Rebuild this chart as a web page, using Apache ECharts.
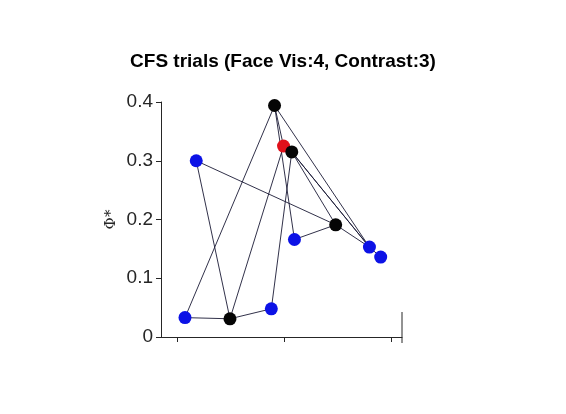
<!DOCTYPE html>
<html>
<head>
<meta charset="utf-8">
<script src="https://cdn.jsdelivr.net/npm/echarts@6/dist/echarts.min.js"></script>
<style>html,body{margin:0;padding:0;background:#fff}#c{width:566px;height:414px}</style>
</head>
<body>
<div id="c"></div>
<script>
// Distinct trial states (x: arbitrary unit, y: Phi*)
const pointX = [1.074, 1.494, 1.880, 1.910, 1.994, 2.071, 1.179, 2.096, 2.481, 2.796, 2.901];
const pointY = [0.033, 0.031, 0.048, 0.394, 0.325, 0.315, 0.300, 0.166, 0.191, 0.153, 0.136];
const pointType = ['blue','black','blue','black','red','black','blue','blue','black','blue','blue'];
// Order in which trials were visited (indices into the arrays above)
const trialOrder = [9, 5, 2, 1, 0, 3, 4, 1, 6, 8, 5, 9, 3, 7, 8, 9, 10];
const xTicks = [1, 2, 3];
const yTicks = [0, 0.1, 0.2, 0.3, 0.4];
const titleText = 'CFS trials (Face Vis:4, Contrast:3)';
const yName = 'Φ*';

const typeColor = {blue: '#0c12e6', black: '#050505', red: '#e0101a'};

const pathData = trialOrder.map(i => [pointX[i], pointY[i]]);
const dotData = pointX.map((x, i) => ({value: [x, pointY[i]], itemStyle: {color: typeColor[pointType[i]], opacity: 1}}));

const chart = echarts.init(document.getElementById('c'));
chart.setOption({
  animation: false,
  backgroundColor: '#fff',
  title: {
    text: titleText, left: 'center', top: 47,
    textStyle: {fontFamily: 'Liberation Sans, Arial, sans-serif', fontWeight: 'bold', fontSize: 19, color: '#000'}
  },
  grid: {left: 161, right: 164, top: 102, bottom: 77},
  xAxis: {
    type: 'value', min: 0.85, max: 3.1,
    axisLine: {show: true, lineStyle: {color: '#262626', width: 1}},
    axisTick: {show: true, customValues: xTicks, length: 5, inside: false, lineStyle: {color: '#262626'}},
    axisLabel: {show: false},
    splitLine: {show: false}
  },
  yAxis: {
    type: 'value', min: yTicks[0], max: yTicks[yTicks.length - 1], interval: 0.1,
    name: yName, nameLocation: 'middle', nameGap: 42, nameRotate: 90,
    nameTextStyle: {fontFamily: 'DejaVu Serif, serif', fontSize: 15, color: '#262626'},
    axisLine: {show: true, lineStyle: {color: '#262626', width: 1}},
    axisTick: {show: true, length: 5, lineStyle: {color: '#262626'}},
    axisLabel: {
      fontFamily: 'Liberation Sans, Arial, sans-serif', fontSize: 19, color: '#262626', margin: 8,
      formatter: v => String(+v.toFixed(1))
    },
    splitLine: {show: false}
  },
  series: [
    {
      type: 'line', data: pathData, showSymbol: false, symbol: 'none',
      lineStyle: {color: '#1a1a36', width: 0.9}, z: 2
    },
    {
      type: 'scatter', data: dotData, symbolSize: 13, z: 3
    }
  ],
  graphic: [
    {type: 'line', shape: {x1: 402, y1: 312, x2: 402, y2: 343}, style: {stroke: '#262626', lineWidth: 1}}
  ]
});
</script>
</body>
</html>
